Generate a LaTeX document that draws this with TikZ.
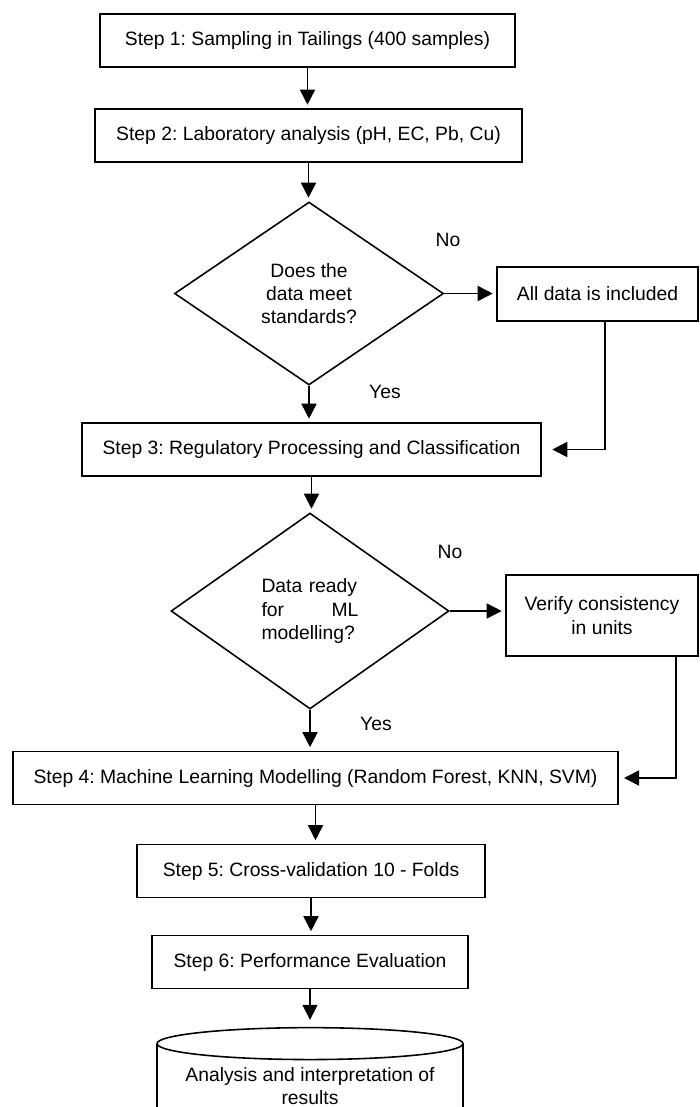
\documentclass[tikz,border=0pt]{standalone}
\usepackage{fontspec}
\setmainfont{Liberation Sans}
\frenchspacing
\usetikzlibrary{arrows.meta,shapes.geometric}
\tikzset{
  txt/.style={font=\fontsize{11}{13.3}\selectfont},
  stepbox/.style={txt,draw,line width=0.9pt,inner sep=0pt,minimum height=1.06cm},
  decision/.style={txt,draw,diamond,line width=0.9pt,inner sep=0pt,align=center},
  store/.style={txt,draw,cylinder,shape border rotate=90,aspect=0.128,line width=0.9pt,inner sep=0pt,align=center},
  arr/.style={-{Triangle[length=0.3cm,width=0.3cm]},line width=0.9pt,shorten >=2pt},
}
\begin{document}
\begin{tikzpicture}[x=0.02cm,y=-0.02cm]
\useasboundingbox (0,0) rectangle (700,1107);
\clip (0,0) rectangle (700,1107);
\node[stepbox,minimum width=8.3cm] (s1) at (307.5,40.5) {Step 1: Sampling in Tailings (400 samples)};
\node[stepbox,minimum width=8.54cm] (s2) at (308.5,135.5) {Step 2: Laboratory analysis (pH, EC, Pb, Cu)};
\node[decision,minimum width=5.38cm,minimum height=3.66cm] (d1) at (309,293.5) {Does the\\data meet\\standards?};
\node[stepbox,minimum width=4.02cm,minimum height=1.08cm] (incl) at (597.5,294) {All data is included};
\node[txt] (no1) at (448,240) {No};
\node[txt] (yes1) at (385,392) {Yes};
\node[stepbox,minimum width=9.18cm] (s3) at (311.5,449.5) {Step 3: Regulatory Processing and Classification};
\node[decision,minimum width=5.56cm,minimum height=3.92cm,text width=1.94cm,align=left] (d2) at (310,611) {Data ready\\for\hfill ML\\modelling?};
\node[stepbox,minimum width=3.84cm,minimum height=1.62cm,align=center] (units) at (602,615.5) {Verify consistency\\in units};
\node[txt] (no2) at (450,552) {No};
\node[txt] (yes2) at (376,724) {Yes};
\node[stepbox,minimum width=12.1cm] (s4) at (315.5,778) {Step 4: Machine Learning Modelling (Random Forest, KNN, SVM)};
\node[stepbox,minimum width=6.96cm] (s5) at (311,871) {Step 5: Cross-validation 10 - Folds};
\node[stepbox,minimum width=6.32cm] (s6) at (310,962) {Step 6: Performance Evaluation};
\node[store,minimum width=6.12cm,minimum height=2cm] (res) at (310,1086) {Analysis and interpretation of\\results};
\draw[arr] (s1.south) -- (s1.south |- s2.north);
\draw[arr] (s2.south) -- (s2.south |- d1.north);
\draw[arr] (d1.east) -- (d1.east -| incl.west);
\draw[arr] (d1.south) -- (d1.south |- s3.north);
\draw[arr,shorten >=6pt] ([xshift=0.15cm]incl.south) |- (s3.east);
\draw[arr] (s3.south) -- (s3.south |- d2.north);
\draw[arr] (d2.east) -- (d2.east -| units.west);
\draw[arr] (d2.south) -- (d2.south |- s4.north);
\draw[arr,shorten >=3pt] ([xshift=1.48cm]units.south) |- (s4.east);
\draw[arr] (s4.south) -- (s4.south |- s5.north);
\draw[arr] (s5.south) -- (s5.south |- s6.north);
\draw[arr,shorten >=4pt] (s6.south) -- (s6.south |- res.north);
\end{tikzpicture}
\end{document}
